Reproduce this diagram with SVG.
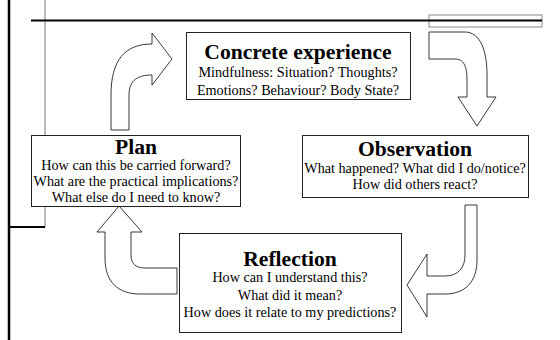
<svg xmlns="http://www.w3.org/2000/svg" width="560" height="340" viewBox="0 0 560 340">
<style>
.box{fill:#fff;stroke:#222;stroke-width:1}
.t{font-family:"Liberation Serif","Times New Roman",serif;font-weight:bold;font-size:21.6px;text-anchor:middle;fill:#000}
.b{font-family:"Liberation Serif","Times New Roman",serif;font-size:14.2px;text-anchor:middle;fill:#000}
.arr{fill:#fff;stroke:#222;stroke-width:0.9;stroke-linejoin:miter}
.rule{stroke:#000;fill:none}
.thin{stroke:#777;stroke-width:1;fill:none}
</style>
<rect width="560" height="340" fill="#fff"/>
<g id="frame">
<line class="thin" x1="45" y1="0" x2="45" y2="135"/>
<line class="thin" x1="45" y1="206" x2="45" y2="227"/>
<rect x="429" y="15" width="113" height="12" fill="none" stroke="#888" stroke-width="1"/>
<line class="rule" x1="31" y1="20.5" x2="542" y2="20.5" stroke-width="2"/>
<line class="rule" x1="9" y1="0" x2="9" y2="340" stroke-width="2.5"/>
<line class="rule" x1="9" y1="227" x2="45" y2="227" stroke-width="2"/>
</g>
<g id="connectors">
<path class="arr" d="M111,130 L111,95 C111,60 125,44 152,44 L152,33 L172,59 L152,85 L152,75 C138,75 129,80 129,95 L129,130 Z"/>
<path class="arr" d="M429,32 L465,32 C480,32 487,50 487,75 L487,97 L496,97 L477,126 L458,97 L467,97 L467,80 C467,65 463,59 455,59 L429,59 Z"/>
<path class="arr" d="M465,205 L477,205 L477,260 C477,282 465,294 445,294 L427,294 L427,317 L407,285 L427,254 L427,276 L445,276 C458,276 465,268 465,255 Z"/>
<path class="arr" d="M177,294 L140,294 C118,294 105,282 105,258 L105,232 L97,232 L119,206 L142,232 L131,232 L131,255 C131,263 135,268 145,268 L177,268 Z"/>
</g>
<g id="concrete">
<rect class="box" x="186.5" y="32.5" width="224" height="67"/>
<text class="t" x="298" y="59">Concrete experience</text>
<text class="b" x="298" y="77">Mindfulness: Situation? Thoughts?</text>
<text class="b" x="298" y="95">Emotions? Behaviour? Body State?</text>
</g>
<g id="plan">
<rect class="box" x="31.5" y="135.5" width="209" height="71"/>
<text class="t" x="136" y="154">Plan</text>
<text class="b" x="136" y="170">How can this be carried forward?</text>
<text class="b" x="136" y="186">What are the practical implications?</text>
<text class="b" x="136" y="202">What else do I need to know?</text>
</g>
<g id="observation">
<rect class="box" x="302.5" y="135.5" width="226" height="62"/>
<text class="t" x="415" y="156">Observation</text>
<text class="b" x="415" y="173">What happened? What did I do/notice?</text>
<text class="b" x="415" y="189">How did others react?</text>
</g>
<g id="reflection">
<rect class="box" x="179.5" y="233.5" width="222" height="99"/>
<text class="t" x="290" y="266">Reflection</text>
<text class="b" x="290" y="282">How can I understand this?</text>
<text class="b" x="290" y="300">What did it mean?</text>
<text class="b" x="290" y="317">How does it relate to my predictions?</text>
</g>
</svg>
